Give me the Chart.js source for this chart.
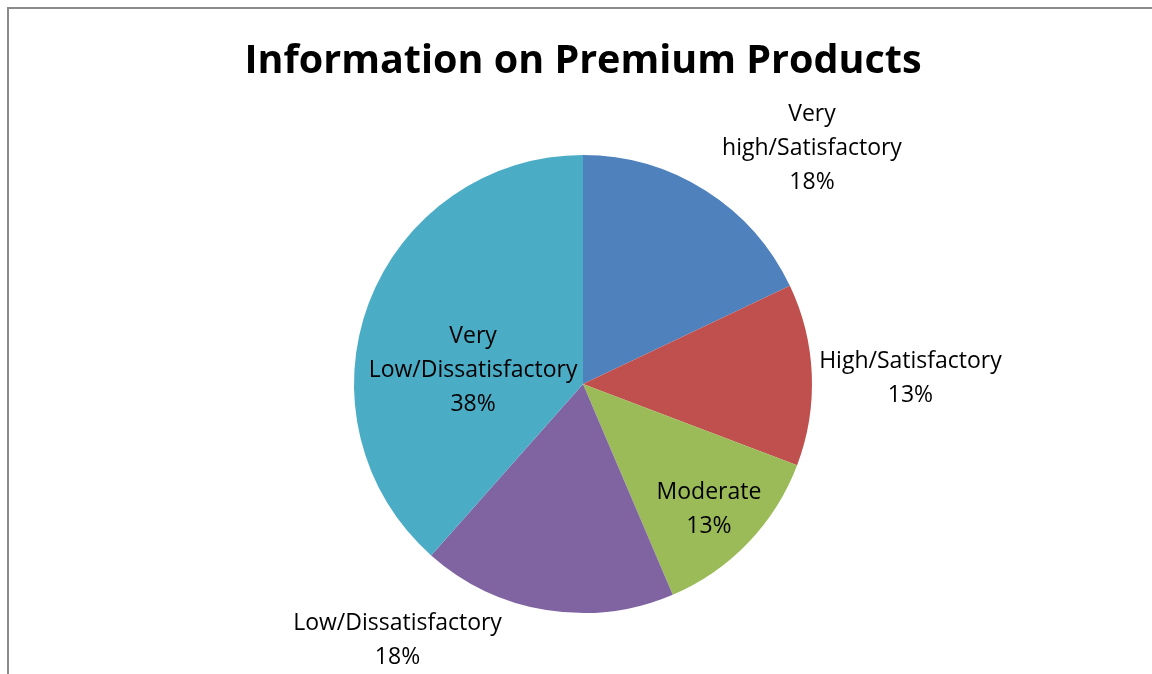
<!DOCTYPE html>
<html>
<head>
<meta charset="utf-8">
<script src="https://cdn.jsdelivr.net/npm/chart.js@4"></script>
<style>
  html, body { margin: 0; padding: 0; background: #fff; }
  #wrap { width: 1152px; height: 674px; }
</style>
</head>
<body>
<div id="wrap"><canvas id="pieChart" width="1152" height="674"></canvas></div>
<script>
// Pie data
const chartTitle = 'Information on Premium Products';
const categories = [
    ['Very', 'high/Satisfactory'],
    ['High/Satisfactory'],
    ['Moderate'],
    ['Low/Dissatisfactory'],
    ['Very', 'Low/Dissatisfactory']
];
const responses = [14, 10, 10, 14, 30];
const sliceColors = ['#4F81BD', '#C0504D', '#9BBB59', '#8064A2', '#4BACC6'];
// label centre relative to pie centre, in radius units
const labelOffsets = [[1.0, -1.03], [1.43, -0.025], [0.55, 0.55], [-0.81, 1.12], [-0.48, -0.06]];

const total = responses.reduce((a, b) => a + b, 0);

// Frame, title and data labels
const decorPlugin = {
    id: 'decor',
    beforeDraw(chart) {
        const c = chart.ctx;
        c.save();
        c.strokeStyle = '#8a8a8a';
        c.lineWidth = 2;
        c.beginPath();
        c.moveTo(8, chart.height);
        c.lineTo(8, 8);
        c.lineTo(chart.width, 8);
        c.stroke();
        c.restore();
    },
    afterDatasetsDraw(chart) {
        const c = chart.ctx;
        const arcs = chart.getDatasetMeta(0).data;
        c.save();
        c.fillStyle = '#000';
        c.textAlign = 'center';
        c.font = 'bold 39.5px "Open Sans"';
        c.textBaseline = 'alphabetic';
        c.fillText(chartTitle, arcs[0].x, 73);

        c.font = '23px "Open Sans"';
        c.textBaseline = 'middle';
        arcs.forEach((arc, i) => {
            const r = arc.outerRadius;
            const cx = arc.x + labelOffsets[i][0] * r;
            const cy = arc.y + labelOffsets[i][1] * r;
            const lines = categories[i].concat([Math.round(responses[i] / total * 100) + '%']);
            const lh = 34;
            const top = cy - (lines.length - 1) * lh / 2;
            lines.forEach((t, j) => c.fillText(t, cx, top + j * lh));
        });
        c.restore();
    }
};

const ctx = document.getElementById('pieChart');
if (ctx) {
    new Chart(ctx, {
        type: 'pie',
        data: {
            labels: categories.map(l => l.join(' ')),
            datasets: [{
                data: responses,
                backgroundColor: sliceColors,
                borderWidth: 0
            }]
        },
        options: {
            responsive: false,
            animation: false,
            layout: {
                padding: { top: 155, bottom: 61, left: 354, right: 340 }
            },
            plugins: {
                legend: { display: false },
                title: { display: false },
                tooltip: { enabled: false }
            }
        },
        plugins: [decorPlugin]
    });
}
</script>
</body>
</html>
